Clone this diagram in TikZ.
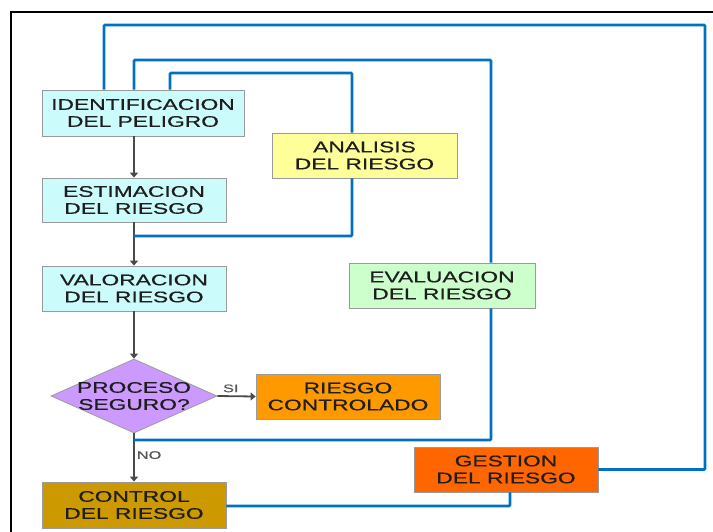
\documentclass[tikz,border=0pt]{standalone}
\usepackage{fontspec}
\setmainfont{Liberation Sans}[FakeStretch=1.48,FakeBold=0.6]
\usetikzlibrary{shapes.geometric,arrows.meta}
\definecolor{cyanbox}{HTML}{CCFBFC}
\definecolor{yellowbox}{HTML}{FFFF99}
\definecolor{greenbox}{HTML}{CCFFCC}
\definecolor{violetbox}{HTML}{CC99FF}
\definecolor{orangebox}{HTML}{FF9900}
\definecolor{goldbox}{HTML}{CC9900}
\definecolor{redbox}{HTML}{FF6600}
\definecolor{loopblue}{HTML}{0070C0}
\definecolor{flowgray}{HTML}{4A4A4A}
\definecolor{edgegray}{HTML}{9A9A9A}
\definecolor{inktext}{HTML}{1E1E1E}
\tikzset{
  stepbox/.style={draw=edgegray, line width=0.8pt, inner sep=0pt,
    minimum width=184pt, minimum height=45pt, align=center,
    text=inktext, font=\fontsize{15.4}{17}\selectfont},
  flow/.style={draw=flowgray, line width=1.8pt,
    -{Triangle[width=8pt,length=5pt]}},
  loop/.style={draw=loopblue, line width=2.6pt, rounded corners=1pt},
  tag/.style={text=inktext!75, font=\fontsize{11}{12}\selectfont, inner sep=0pt}
}
\begin{document}
\begin{tikzpicture}[x=1pt,y=-1pt]
\useasboundingbox (0,0) rectangle (713,531);
\fill[white] (0,0) rectangle (713,531);
% outer frame
\draw[line width=2pt] (11,545) -- (11,12) -- (725,12);

% process steps
\node[stepbox, fill=cyanbox, minimum width=202pt, minimum height=46pt] (ident) at (143,113) {IDENTIFICACION\\DEL PELIGRO};
\node[stepbox, fill=cyanbox, minimum height=44pt] (estim) at (134,200) {ESTIMACION\\DEL RIESGO};
\node[stepbox, fill=cyanbox] (valor) at (134,288.5) {VALORACION\\DEL RIESGO};
\node[stepbox, fill=yellowbox, minimum width=185pt] (anal) at (364.5,155.5) {ANALISIS\\DEL RIESGO};
\node[stepbox, fill=greenbox, minimum width=186pt] (eval) at (442,285.5) {EVALUACION\\DEL RIESGO};
\node[diamond, draw=edgegray, line width=0.8pt, fill=violetbox, inner sep=0pt,
      minimum width=166pt, minimum height=74pt] (dec) at (134,396) {};
\node[text=inktext, align=center, font=\fontsize{15.4}{17}\selectfont] (dectext) at (dec.center) {PROCESO\\SEGURO?};
\node[stepbox, fill=orangebox] (contr) at (348,396.5) {RIESGO\\CONTROLADO};
\node[stepbox, fill=goldbox, minimum height=46pt] (control) at (134,505) {CONTROL\\DEL RIESGO};
\node[stepbox, fill=redbox] (gest) at (506,469.5) {GESTION\\DEL RIESGO};

% main flow
\draw[flow] (ident.south -| estim.north) -- (estim.north);
\draw[flow] (estim.south) -- (valor.north);
\draw[flow] (valor.south) -- (dec.north);
\draw[flow] (dec.east) -- (contr.west) node[tag, pos=0.35, above=3pt] (si) {SI};
\draw[flow] (dec.south) -- (control.north) node[tag, pos=0.45, right=2pt] (no) {NO};

% feedback loops
\coordinate (oa) at (104,25);
\coordinate (ob) at (705,25);
\draw[loop] (ident.north -| oa) -- (oa) -- (ob) |- (gest.east);

\coordinate (ma) at (134,60);
\coordinate (mb) at (491,60);
\coordinate (mc) at (491,440);
\draw[loop] (ident.north -| ma) -- (ma) -- (mb) -- (eval.north -| mb);
\draw[loop] (eval.south -| mb) -- (mc) -- (mc -| dec.south);

\coordinate (ia) at (170,73);
\coordinate (ib) at (352,73);
\coordinate (ic) at (134,236);
\draw[loop] (ident.north -| ia) -- (ia) -- (ib) -- (anal.north -| ib);
\draw[loop] (anal.south -| ib) |- (ic);

\coordinate (ga) at (510,506);
\draw[loop] (gest.south -| ga) -- (ga) -- (ga -| control.east);
\end{tikzpicture}
\end{document}
